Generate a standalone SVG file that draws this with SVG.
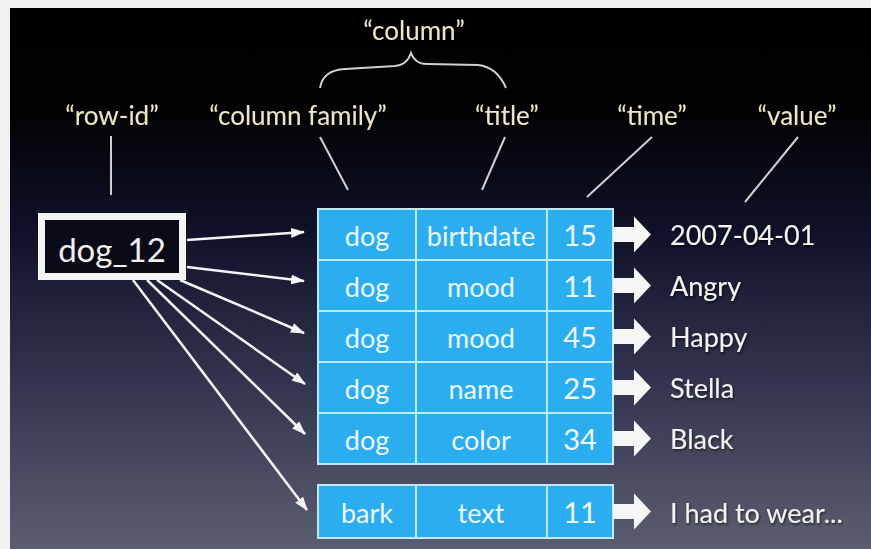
<svg xmlns="http://www.w3.org/2000/svg" width="871" height="549" viewBox="0 0 871 549">
  <defs>
    <linearGradient id="slideBg" x1="0" y1="0" x2="0" y2="1">
      <stop offset="0" stop-color="#000000"/>
      <stop offset="0.2" stop-color="#030306"/>
      <stop offset="0.42" stop-color="#11122a"/>
      <stop offset="0.7" stop-color="#343550"/>
      <stop offset="1" stop-color="#5d5d70"/>
    </linearGradient>
    <filter id="shadow" x="-10%" y="-20%" width="120%" height="150%">
      <feDropShadow dx="1" dy="1.5" stdDeviation="1" flood-color="#000" flood-opacity="0.6"/>
    </filter>
    <marker id="head" markerUnits="userSpaceOnUse" markerWidth="14" markerHeight="10" refX="13" refY="5" orient="auto">
      <path d="M0,0 L14,5 L0,10 z" fill="#f4f4f4"/>
    </marker>
    <!-- block arrow pointing right, centred on y=0 -->
    <path id="fat" d="M613,-7.5 L634,-7.5 L634,-18 L651,0 L634,18 L634,7.5 L613,7.5 z" fill="#f6f6f6"/>
    <style>
      .label { font-family: "Lato", "Open Sans", sans-serif; font-size: 26px; fill: #ece6c4; text-anchor: middle; }
      .cell { font-family: "Lato", "Open Sans", sans-serif; font-size: 27px; fill: #eef8ff; text-anchor: middle; }
      .num { font-family: "Lato", "Open Sans", sans-serif; font-size: 29px; fill: #eef8ff; text-anchor: middle; }
      .value { font-family: "Lato", "Open Sans", sans-serif; font-size: 27px; fill: #f4f4f4; }
      .grid { fill: #2aaef0; stroke: #bfe8fb; stroke-width: 2; }
      .rule { stroke: #bfe8fb; stroke-width: 2; }
      .pointer { stroke: #d0d0d0; stroke-width: 2; fill: none; }
      .link { stroke: #f4f4f4; stroke-width: 2.5; fill: none; marker-end: url(#head); }
    </style>
  </defs>

  <!-- page margin and slide background -->
  <rect x="0" y="0" width="871" height="549" fill="#f1f1f1"/>
  <rect x="10" y="8" width="861" height="541" fill="url(#slideBg)"/>

  <!-- labels with their pointer lines -->
  <g id="labels" filter="url(#shadow)">
    <text class="label" x="414" y="40">“column”</text>
    <text class="label" x="112" y="125">“row-id”</text>
    <text class="label" x="298" y="125">“column family”</text>
    <text class="label" x="507" y="125">“title”</text>
    <text class="label" x="652" y="125">“time”</text>
    <text class="label" x="797" y="125">“value”</text>
  </g>
  <g id="pointers">
    <path class="pointer" d="M320,88 Q323,70 345,69 L395,66 Q407,65 411,53 Q415,64 427,64 L478,65 Q497,67 506,88"/>
    <line class="pointer" x1="111" y1="136" x2="111" y2="195"/>
    <line class="pointer" x1="320" y1="137" x2="348" y2="190"/>
    <line class="pointer" x1="505" y1="137" x2="482" y2="190"/>
    <line class="pointer" x1="652" y1="137" x2="587" y2="197"/>
    <line class="pointer" x1="798" y1="137" x2="745" y2="202"/>
  </g>

  <!-- row key -->
  <g id="row-key">
    <rect x="41.5" y="216.5" width="141" height="60" fill="#0b0b18" stroke="#f4f4f4" stroke-width="7"/>
    <text x="112" y="262" font-family="Lato, 'Open Sans', sans-serif" font-size="33" fill="#f0f0f0" text-anchor="middle">dog_12</text>
  </g>

  <!-- connectors from the row key to each cell -->
  <g id="connectors">
    <line class="link" x1="187" y1="240" x2="304" y2="232"/>
    <line class="link" x1="187" y1="267" x2="304" y2="281"/>
    <line class="link" x1="180" y1="280" x2="304" y2="333"/>
    <line class="link" x1="157" y1="280" x2="305" y2="384"/>
    <line class="link" x1="147" y1="280" x2="305" y2="434"/>
    <line class="link" x1="133" y1="280" x2="307" y2="510"/>
  </g>

  <!-- dog column family -->
  <g id="table-dog">
    <rect class="grid" x="318" y="209" width="295" height="255"/>
    <line class="rule" x1="416" y1="209" x2="416" y2="464"/>
    <line class="rule" x1="547" y1="209" x2="547" y2="464"/>
    <line class="rule" x1="318" y1="260" x2="613" y2="260"/>
    <line class="rule" x1="318" y1="311" x2="613" y2="311"/>
    <line class="rule" x1="318" y1="362" x2="613" y2="362"/>
    <line class="rule" x1="318" y1="413" x2="613" y2="413"/>
  </g>
  <g id="row-birthdate">
    <text class="cell" x="367" y="246">dog</text>
    <text class="cell" x="481" y="246">birthdate</text>
    <text class="num" x="580" y="246">15</text>
    <use href="#fat" y="234.5"/>
    <text class="value" x="670" y="245" filter="url(#shadow)">2007-04-01</text>
  </g>
  <g id="row-mood-11">
    <text class="cell" x="367" y="297">dog</text>
    <text class="cell" x="481" y="297">mood</text>
    <text class="num" x="580" y="297">11</text>
    <use href="#fat" y="285.5"/>
    <text class="value" x="670" y="296" filter="url(#shadow)">Angry</text>
  </g>
  <g id="row-mood-45">
    <text class="cell" x="367" y="348">dog</text>
    <text class="cell" x="481" y="348">mood</text>
    <text class="num" x="580" y="348">45</text>
    <use href="#fat" y="336.5"/>
    <text class="value" x="670" y="347" filter="url(#shadow)">Happy</text>
  </g>
  <g id="row-name">
    <text class="cell" x="367" y="399">dog</text>
    <text class="cell" x="481" y="399">name</text>
    <text class="num" x="580" y="399">25</text>
    <use href="#fat" y="387.5"/>
    <text class="value" x="670" y="398" filter="url(#shadow)">Stella</text>
  </g>
  <g id="row-color">
    <text class="cell" x="367" y="450">dog</text>
    <text class="cell" x="481" y="450">color</text>
    <text class="num" x="580" y="450">34</text>
    <use href="#fat" y="438.5"/>
    <text class="value" x="670" y="449" filter="url(#shadow)">Black</text>
  </g>

  <!-- bark column family -->
  <g id="table-bark">
    <rect class="grid" x="318" y="485" width="295" height="53"/>
    <line class="rule" x1="416" y1="485" x2="416" y2="538"/>
    <line class="rule" x1="547" y1="485" x2="547" y2="538"/>
  </g>
  <g id="row-text">
    <text class="cell" x="367" y="523">bark</text>
    <text class="cell" x="481" y="523">text</text>
    <text class="num" x="580" y="523">11</text>
    <use href="#fat" y="511.5"/>
    <text class="value" x="670" y="523" filter="url(#shadow)">I had to wear...</text>
  </g>
</svg>
